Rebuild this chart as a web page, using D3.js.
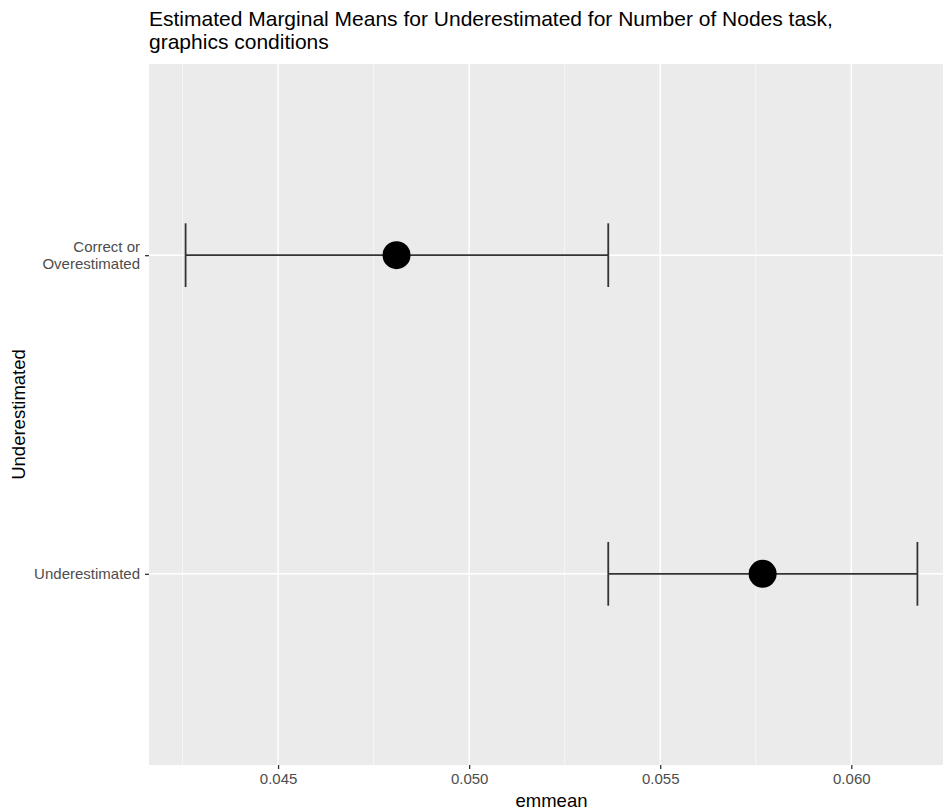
<!DOCTYPE html>
<html>
<head>
<meta charset="utf-8">
<script src="https://cdn.jsdelivr.net/npm/d3@7"></script>
<style>
  html, body { margin: 0; padding: 0; background: #fff; }
  svg { display: block; font-family: "Liberation Sans", Arial, Helvetica, sans-serif; }
</style>
</head>
<body>
<svg id="chart" width="943" height="811"></svg>
<script>
// ---- data ----
const categories = ["Correct or Overestimated", "Underestimated"];
const categoryLabels = [["Correct or", "Overestimated"], ["Underestimated"]];
const emmean = [0.04810, 0.05768];
const lowerCL = [0.04258, 0.05364];
const upperCL = [0.05364, 0.06173];
const xTicks = [0.045, 0.050, 0.055, 0.060];
const xMinorTicks = [0.0425, 0.0475, 0.0525, 0.0575, 0.0625];
const titleLines = ["Estimated Marginal Means for Underestimated for Number of Nodes task,", "graphics conditions"];
const xTitle = "emmean";
const yTitle = "Underestimated";

// ---- layout ----
const panel = { left: 149, top: 64, right: 954, bottom: 765 };
const svg = d3.select("#chart");

const lo = d3.min(lowerCL), hi = d3.max(upperCL);
const pad = (hi - lo) * 0.05;
const x = d3.scaleLinear().domain([lo - pad, hi + pad]).range([panel.left, panel.right]);
const y = d3.scalePoint().domain(categories).range([panel.top, panel.bottom]).padding(0.6);
const step = y.step();

// panel background
svg.append("rect")
  .attr("x", panel.left).attr("y", panel.top)
  .attr("width", panel.right - panel.left).attr("height", panel.bottom - panel.top)
  .attr("fill", "#ebebeb");

const grid = svg.append("g");
grid.selectAll("line.minor").data(xMinorTicks).join("line")
  .attr("class", "minor")
  .attr("x1", d => x(d)).attr("x2", d => x(d))
  .attr("y1", panel.top).attr("y2", panel.bottom)
  .attr("stroke", "#fafafa").attr("stroke-width", 0.7);
grid.selectAll("line.majorx").data(xTicks).join("line")
  .attr("class", "majorx")
  .attr("x1", d => x(d)).attr("x2", d => x(d))
  .attr("y1", panel.top).attr("y2", panel.bottom)
  .attr("stroke", "#ffffff").attr("stroke-width", 1.4);
grid.selectAll("line.majory").data(categories).join("line")
  .attr("class", "majory")
  .attr("x1", panel.left).attr("x2", panel.right)
  .attr("y1", d => y(d)).attr("y2", d => y(d))
  .attr("stroke", "#ffffff").attr("stroke-width", 1.4);

// error bars
const rows = categories.map((c, i) => ({ c, m: emmean[i], lo: lowerCL[i], hi: upperCL[i] }));
const eb = svg.append("g").attr("stroke", "#333333").attr("stroke-width", 1.8).attr("fill", "none");
eb.selectAll("line.h").data(rows).join("line")
  .attr("x1", d => x(d.lo)).attr("x2", d => x(d.hi))
  .attr("y1", d => y(d.c)).attr("y2", d => y(d.c));
eb.selectAll("line.l").data(rows).join("line")
  .attr("x1", d => x(d.lo)).attr("x2", d => x(d.lo))
  .attr("y1", d => y(d.c) - step * 0.1).attr("y2", d => y(d.c) + step * 0.1);
eb.selectAll("line.r").data(rows).join("line")
  .attr("x1", d => x(d.hi)).attr("x2", d => x(d.hi))
  .attr("y1", d => y(d.c) - step * 0.1).attr("y2", d => y(d.c) + step * 0.1);

// points
svg.append("g").selectAll("circle").data(rows).join("circle")
  .attr("cx", d => x(d.m)).attr("cy", d => y(d.c)).attr("r", 14)
  .attr("fill", "#000");

// x axis
const xAxis = d3.axisBottom(x).tickValues(xTicks).tickFormat(d3.format(".3f")).tickSize(4).tickPadding(4);
const gx = svg.append("g").attr("transform", `translate(0,${panel.bottom})`).call(xAxis);
gx.select(".domain").remove();
gx.selectAll(".tick line").attr("stroke", "#333333").attr("stroke-width", 1.3);
gx.selectAll(".tick text").attr("fill", "#4d4d4d").attr("font-size", 15).attr("font-family", "Liberation Sans, Arial, sans-serif");

// y axis
const yAxis = d3.axisLeft(y).tickSize(4).tickFormat("");
const gy = svg.append("g").attr("transform", `translate(${panel.left},0)`).call(yAxis);
gy.select(".domain").remove();
gy.selectAll(".tick line").attr("stroke", "#333333").attr("stroke-width", 1.3);
const lh = 17.5;
svg.append("g").selectAll("text").data(categories).join("text")
  .attr("text-anchor", "end")
  .attr("fill", "#4d4d4d").attr("font-size", 15)
  .each(function(d, i) {
    const lines = categoryLabels[i];
    const t = d3.select(this);
    const y0 = y(d) - (lines.length - 1) * lh / 2;
    lines.forEach((ln, k) => {
      t.append("tspan").attr("x", panel.left - 9).attr("y", y0 + k * lh).attr("dy", "0.35em").text(ln);
    });
  });

// axis titles
svg.append("text")
  .attr("x", (panel.left + panel.right) / 2).attr("y", 807)
  .attr("text-anchor", "middle").attr("font-size", 18.5).attr("fill", "#000")
  .text(xTitle);
svg.append("text")
  .attr("transform", `translate(25,${(panel.top + panel.bottom) / 2}) rotate(-90)`)
  .attr("text-anchor", "middle").attr("font-size", 18.5).attr("fill", "#000")
  .text(yTitle);

// title
svg.append("g").selectAll("text").data(titleLines).join("text")
  .attr("x", panel.left).attr("y", (d, i) => 26 + i * 23)
  .attr("font-size", 21).attr("fill", "#000")
  .text(d => d);
</script>
</body>
</html>
